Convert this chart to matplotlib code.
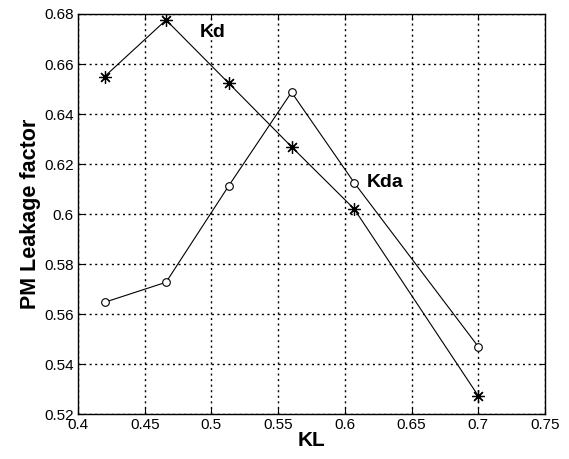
import numpy as np
import matplotlib.pyplot as plt

# data
kl = [0.42, 0.466, 0.513, 0.56, 0.607, 0.70]
kd = [0.655, 0.6776, 0.6523, 0.6269, 0.602, 0.5272]
kda = [0.5647, 0.5727, 0.6113, 0.6487, 0.6125, 0.5469]

x_ticks = [0.4, 0.45, 0.5, 0.55, 0.6, 0.65, 0.7, 0.75]
x_labels = ['0.4', '0.45', '0.5', '0.55', '0.6', '0.65', '0.7', '0.75']
y_ticks = [0.52, 0.54, 0.56, 0.58, 0.6, 0.62, 0.64, 0.66, 0.68]
y_labels = ['0.52', '0.54', '0.56', '0.58', '0.6', '0.62', '0.64', '0.66', '0.68']

plt.rcParams['font.family'] = ['Liberation Sans', 'DejaVu Sans']

fig = plt.figure(figsize=(5.69, 4.59), dpi=100)
ax = fig.add_axes([0.137, 0.098, 0.821, 0.8715])

ax.plot(kl, kd, '-', color='black', linewidth=0.8, marker=(8, 2, 0), markersize=9,
        markeredgewidth=0.9)
ax.plot(kl, kda, '-', color='black', linewidth=0.8, marker='o', markersize=5.5,
        markerfacecolor='white', markeredgewidth=0.8)

ax.text(0.501, 0.6726, 'Kd', fontsize=14, fontweight='bold', ha='center', va='center')
ax.text(0.616, 0.6128, 'Kda', fontsize=14, fontweight='bold', ha='left', va='center')

ax.set_xlim(0.4, 0.75)
ax.set_ylim(0.52, 0.68)
ax.set_xticks(x_ticks)
ax.set_xticklabels(x_labels)
ax.set_yticks(y_ticks)
ax.set_yticklabels(y_labels)
ax.tick_params(direction='in', top=True, right=True, labelsize=11, length=4, pad=3)
ax.grid(True, color='black', linestyle=(0, (1.5, 2.5)), linewidth=1.0)

ax.set_xlabel('KL', fontsize=15, fontweight='bold', labelpad=-1)
ax.set_ylabel('PM Leakage factor', fontsize=15.5, fontweight='bold', labelpad=2)

for s in ax.spines.values():
    s.set_linewidth(1.0)

plt.savefig('out.png', dpi=100)
